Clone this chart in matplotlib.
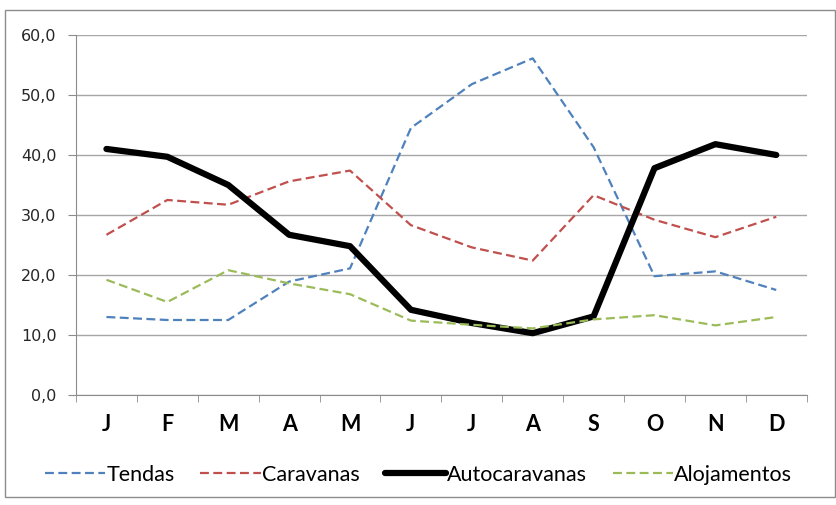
import matplotlib.pyplot as plt
from matplotlib.patches import Rectangle

plt.rcParams['font.family'] = ['Lato', 'DejaVu Sans']

months = ['J', 'F', 'M', 'A', 'M', 'J', 'J', 'A', 'S', 'O', 'N', 'D']
yticks = [0, 10, 20, 30, 40, 50, 60]
ytick_labels = ['0,0', '10,0', '20,0', '30,0', '40,0', '50,0', '60,0']
tendas = [13.0, 12.5, 12.5, 18.9, 21.1, 44.5, 51.8, 56.1, 41.3, 19.8, 20.6, 17.5]
caravanas = [26.7, 32.5, 31.7, 35.6, 37.4, 28.3, 24.6, 22.4, 33.3, 29.2, 26.3, 29.7]
autocaravanas = [41.0, 39.7, 35.0, 26.7, 24.8, 14.2, 12.0, 10.3, 13.1, 37.8, 41.8, 40.0]
alojamentos = [19.2, 15.5, 20.8, 18.6, 16.8, 12.4, 11.7, 11.1, 12.6, 13.3, 11.6, 13.0]

fig = plt.figure(figsize=(8.37, 5.05), dpi=100)
ax = fig.add_axes([0.0908, 0.2178, 0.873, 0.713])

# chart area border
fig.patches.append(Rectangle((5 / 837, 1 - 497 / 505), 830 / 837, 487 / 505,
                             transform=fig.transFigure, fill=False,
                             edgecolor='#8c8c8c', linewidth=1))

x = range(len(months))
dash = (0, (4, 2))
ax.plot(x, tendas, color='#4F81BD', linestyle=dash, linewidth=1.6, label='Tendas')
ax.plot(x, caravanas, color='#C0504D', linestyle=dash, linewidth=1.6, label='Caravanas')
ax.plot(x, autocaravanas, color='black', linewidth=4.5, solid_capstyle='round',
        solid_joinstyle='round', label='Autocaravanas')
ax.plot(x, alojamentos, color='#9BBB59', linestyle=dash, linewidth=1.6, label='Alojamentos')

ax.set_ylim(0, 60)
ax.set_xlim(-0.5, 11.5)
ax.set_yticks(yticks)
ax.set_yticklabels(ytick_labels, family='DejaVu Sans', fontsize=11.5, color='#262626')
ax.grid(axis='y', color='#a6a6a6', linewidth=1)
ax.set_axisbelow(True)

ax.set_xticks(list(x))
ax.set_xticklabels(months, fontweight='bold', fontsize=15.5)
ax.set_xticks([i - 0.5 for i in range(13)], minor=True)
ax.tick_params(axis='x', which='major', length=0, pad=14)
ax.tick_params(axis='x', which='minor', length=5, color='#8c8c8c')
ax.tick_params(axis='y', length=6, color='#8c8c8c', pad=8)

for s in ['top', 'right']:
    ax.spines[s].set_visible(False)
for s in ['left', 'bottom']:
    ax.spines[s].set_color('#8c8c8c')

fig.legend(loc='center', bbox_to_anchor=(0.5, 1 - 475 / 505), ncol=4, frameon=False,
           fontsize=15.5, handlelength=2.8, handletextpad=0.05, columnspacing=1.2)

fig.savefig('out.png', dpi=100)
